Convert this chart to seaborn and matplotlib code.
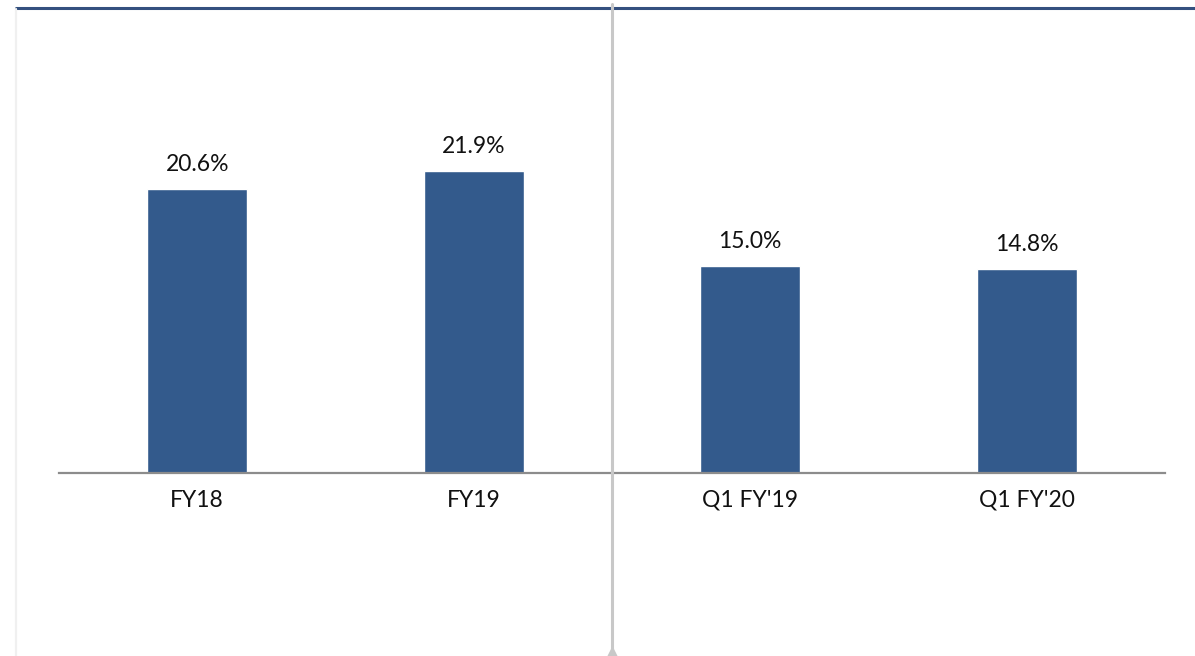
import matplotlib
matplotlib.use("Agg")
import matplotlib.pyplot as plt
import seaborn as sns
import pandas as pd
from matplotlib.lines import Line2D

categories = ["FY18", "FY19", "Q1 FY'19", "Q1 FY'20"]
values = [20.6, 21.9, 15.0, 14.8]
value_labels = ["20.6%", "21.9%", "15.0%", "14.8%"]

sns.set_theme(style="white")
plt.rcParams['font.family'] = ['Lato', 'DejaVu Sans']

W, H = 1195, 656
fig = plt.figure(figsize=(W / 100, H / 100), dpi=100)
ax = fig.add_axes([59 / W, (H - 473) / H, 1106 / W, 345 / H])

df = pd.DataFrame({"cat": categories, "val": values})
sns.barplot(data=df, x="cat", y="val", color="#335a8c", width=0.36,
            saturation=1, ax=ax)

ax.set_xlim(-0.5, 3.5)
ax.set_ylim(0, 25)
for i, (v, lab) in enumerate(zip(values, value_labels)):
    ax.annotate(lab, (i, v), xytext=(0, 14), textcoords="offset pixels",
                ha="center", va="bottom", fontsize=16.5, color="#111111")

ax.set_xlabel("")
ax.set_ylabel("")
ax.set_yticks([])
ax.tick_params(axis="x", length=0, pad=12, labelsize=16.5, labelcolor="#111111")
for s in ["top", "right", "left"]:
    ax.spines[s].set_visible(False)
ax.spines["bottom"].set_color("#8c8c8c")
ax.spines["bottom"].set_linewidth(1.6)

# decorative frame lines
fig.add_artist(Line2D([16 / W, 1], [1 - 8 / H, 1 - 8 / H], color="#34507f",
                      lw=2.2, transform=fig.transFigure))
fig.add_artist(Line2D([16 / W, 16 / W], [0, 1 - 9 / H], color="#f0f0f0",
                      lw=1.6, transform=fig.transFigure))
fig.add_artist(Line2D([612 / W, 612 / W], [6 / H, 1 - 4 / H], color="#c8c8c8",
                      lw=2.2, transform=fig.transFigure))
fig.add_artist(Line2D([612 / W], [1 / H], marker="^", markersize=11,
                      color="#c8c8c8", transform=fig.transFigure))

fig.savefig("out.png", dpi=100)
